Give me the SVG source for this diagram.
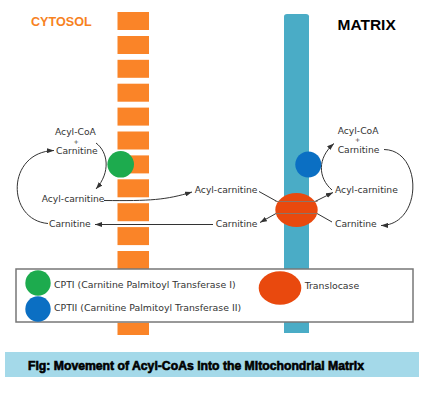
<svg xmlns="http://www.w3.org/2000/svg" width="423" height="400" viewBox="0 0 423 400">
<style>
.lbl{font-family:"DejaVu Sans",Verdana,sans-serif;font-size:9.2px;fill:#333}
.plus{font-family:"DejaVu Sans",sans-serif;font-size:6.2px;fill:#333;text-anchor:middle}
.leg{font-family:"DejaVu Sans",Verdana,sans-serif;font-size:9.35px;fill:#333}
.blk{fill:#fa8428}
.con{fill:none;stroke:#333;stroke-width:1}
.inner{fill:none;stroke:#8d7466;stroke-width:1.2}
</style>
<defs>
<marker id="ah" markerWidth="7" markerHeight="5" refX="7" refY="2.5" orient="auto" markerUnits="userSpaceOnUse">
<path d="M0,0 L7,2.5 L0,5 z" fill="#333"/>
</marker>
</defs>
<rect width="423" height="400" fill="#fff"/>

<g id="titles">
<text x="31" y="26" font-family="Liberation Sans,Arial,sans-serif" font-weight="bold" font-size="12.6" fill="#f7821e">CYTOSOL</text>
<text x="337.5" y="30" font-family="Liberation Sans,Arial,sans-serif" font-weight="bold" font-size="15.5" fill="#000">MATRIX</text>
</g>

<g id="outer-membrane">
<rect class="blk" x="117.5" y="12" width="31.5" height="18"/>
<rect class="blk" x="117.5" y="36" width="31.5" height="18"/>
<rect class="blk" x="117.5" y="59.8" width="31.5" height="18"/>
<rect class="blk" x="117.5" y="83.7" width="31.5" height="18"/>
<rect class="blk" x="117.5" y="107.6" width="31.5" height="18"/>
<rect class="blk" x="117.5" y="131.5" width="31.5" height="18"/>
<rect class="blk" x="117.5" y="155.4" width="31.5" height="18"/>
<rect class="blk" x="117.5" y="179.3" width="31.5" height="18"/>
<rect class="blk" x="117.5" y="203.2" width="31.5" height="18"/>
<rect class="blk" x="117.5" y="227.1" width="31.5" height="18"/>
<rect class="blk" x="117.5" y="251" width="31.5" height="18"/>
<rect class="blk" x="117.5" y="274.9" width="31.5" height="18"/>
<rect class="blk" x="117.5" y="298.8" width="31.5" height="18"/>
<rect class="blk" x="117.5" y="322.7" width="31.5" height="12.3"/>
</g>

<g id="inner-membrane">
<path d="M284,333 L284,16.5 Q284,14 287,14 L306,14 Q309,14 309,16.5 L309,333 Z" fill="#4aacc6"/>
</g>

<g id="connectors">
<path class="con" d="M96,143 C108,152 111,172 96,189" marker-end="url(#ah)"/>
<path class="con" d="M104,200.5 C150,201 166,200 192,192" marker-end="url(#ah)"/>
<path class="con" d="M213,224.5 L95,224.5" marker-end="url(#ah)"/>
<path class="con" d="M48,223.5 C6,220 6,152 54,150.5" marker-end="url(#ah)"/>
<path class="con" d="M259,191.5 L277,201.5 L315,201.5 L333,192.5" marker-end="url(#ah)"/>
<path class="con" d="M332,222 L317,213.5 L276,213.5 L260,222.5" marker-end="url(#ah)"/>
<path class="con" d="M332,190 C318,178 317,158 334,143.5" marker-end="url(#ah)"/>
<path class="con" d="M384,149.5 C423,150 423,225 381,225.5" marker-end="url(#ah)"/>
</g>

<g id="cpt1">
<circle cx="120.7" cy="164.3" r="13.3" fill="#1dab4e"/>
</g>
<g id="cpt2">
<circle cx="308.3" cy="164.5" r="13" fill="#0b6fc3"/>
</g>
<g id="translocase">
<ellipse cx="296.5" cy="210" rx="21.2" ry="17" fill="#e9490e"/>
<path class="inner" d="M275.5,201.5 L317.5,201.5 M275.5,213.5 L317.5,213.5"/>
</g>

<g id="labels-cytosol">
<text class="lbl" x="55" y="135">Acyl-CoA</text>
<text class="plus" x="76" y="143.6">+</text>
<text class="lbl" x="56" y="154.2">Carnitine</text>
<text class="lbl" x="41.7" y="202.3">Acyl-carnitine</text>
<text class="lbl" x="49" y="226.7">Carnitine</text>
</g>
<g id="labels-middle">
<text class="lbl" x="257.5" y="193" text-anchor="end">Acyl-carnitine</text>
<text class="lbl" x="257.5" y="227" text-anchor="end">Carnitine</text>
</g>
<g id="labels-matrix">
<text class="lbl" x="337.7" y="133.6">Acyl-CoA</text>
<text class="plus" x="357.5" y="142.3">+</text>
<text class="lbl" x="337.7" y="152.6">Carnitine</text>
<text class="lbl" x="335" y="193.3">Acyl-carnitine</text>
<text class="lbl" x="335" y="227.3">Carnitine</text>
</g>

<g id="legend">
<rect x="16" y="269" width="397" height="53" fill="#fff" stroke="#777" stroke-width="1.5"/>
<circle cx="38" cy="283" r="12.7" fill="#1dab4e"/>
<circle cx="38" cy="309" r="12.7" fill="#0b6fc3"/>
<text class="leg" x="54" y="288">CPTI (Carnitine Palmitoyl Transferase I)</text>
<text class="leg" x="54" y="311">CPTII (Carnitine Palmitoyl Transferase II)</text>
<ellipse cx="280" cy="288" rx="21.3" ry="16.7" fill="#e9490e"/>
<text class="leg" x="304.7" y="289">Translocase</text>
</g>

<g id="caption">
<rect x="5" y="352" width="414" height="25" fill="#a4d9e9"/>
<text x="28" y="369.5" font-family="Liberation Sans,Arial,sans-serif" font-weight="bold" font-size="12" fill="#000" stroke="#000" stroke-width="0.6" textLength="336" lengthAdjust="spacingAndGlyphs">Fig: Movement of Acyl-CoAs into the Mitochondrial Matrix</text>
</g>
</svg>
